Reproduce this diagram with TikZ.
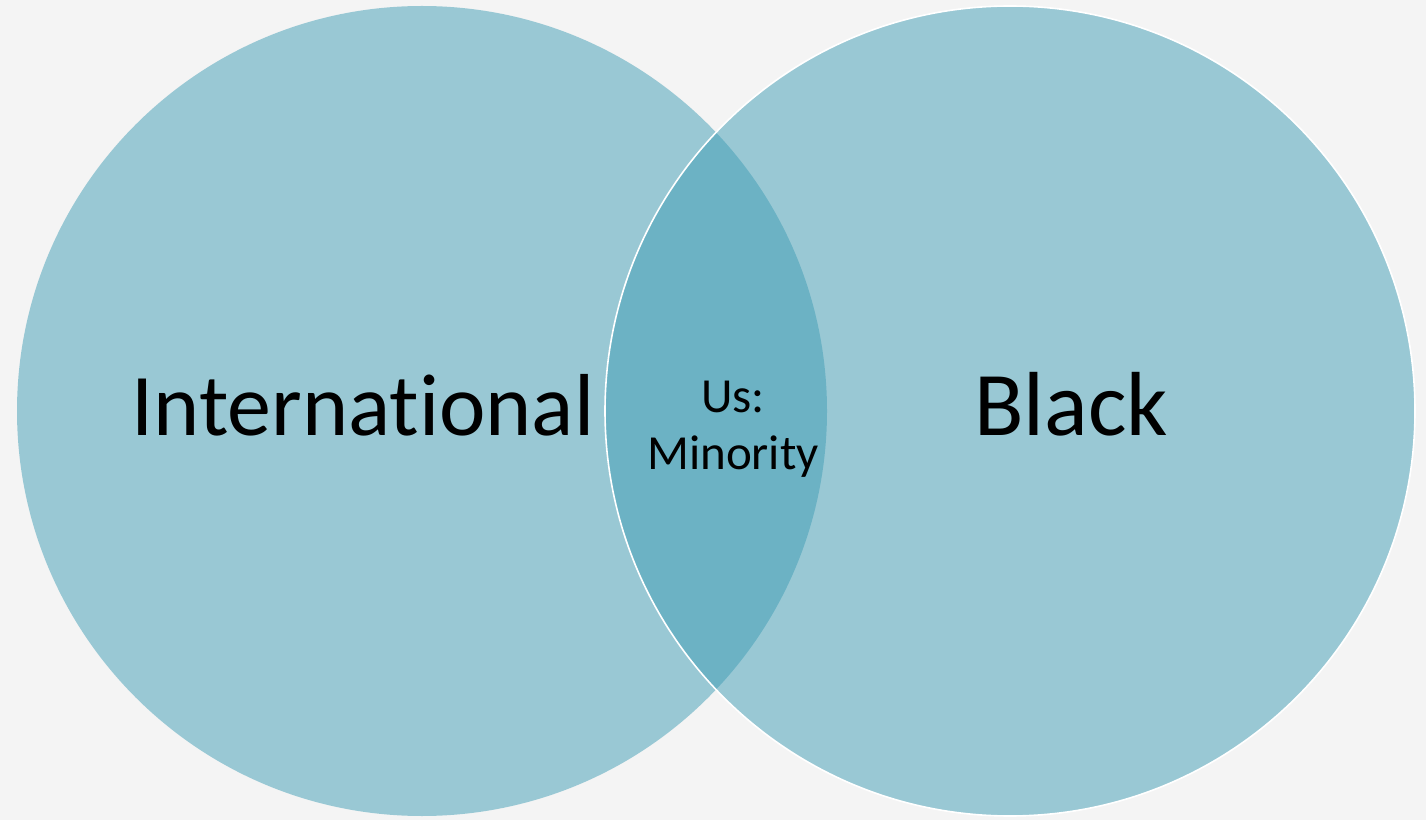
\documentclass[tikz,border=0pt]{standalone}
\usepackage{fontspec}
\setmainfont{Carlito}[Ligatures={NoCommon}]
\usepackage{xcolor}
\usetikzlibrary{positioning}
\definecolor{pagegray}{RGB}{244,244,244}
\definecolor{setblue}{RGB}{64,158,182}
\newcommand\circrad{405}
\newcommand\leftcx{422}
\newcommand\rightcx{1010}
\newcommand\midy{409}
\tikzset{
  setcircle/.style = {fill=setblue, fill opacity=0.5},
  biglabel/.style = {font=\fontsize{91}{109}\selectfont, anchor=base, text=black, inner sep=0pt},
  smalllabel/.style = {font=\fontsize{49}{57}\selectfont, align=center, anchor=base, text=black, inner sep=0pt},
}

\begin{document}
\begin{tikzpicture}[x=1pt,y=1pt]
         \fill[pagegray] (0,0) rectangle (1426,820);
         \useasboundingbox (0,0) rectangle (1426,820);
         % --- Left set
         \fill[setcircle] (\leftcx,\midy) circle [radius=\circrad];
         % --- Right set, over the left one
         \draw[setcircle, draw=white, line width=1.6pt] (\rightcx,\midy) circle [radius=\circrad];
         % --- Labels
         \node[biglabel, font=\fontsize{88}{106}\selectfont] (intl) at (363,384) {International};
         \node[biglabel] (black) at (1071,384) {Black};
         \node[smalllabel] (us) at (733,350) {Us:\\Minority};
       \end{tikzpicture}
\end{document}
